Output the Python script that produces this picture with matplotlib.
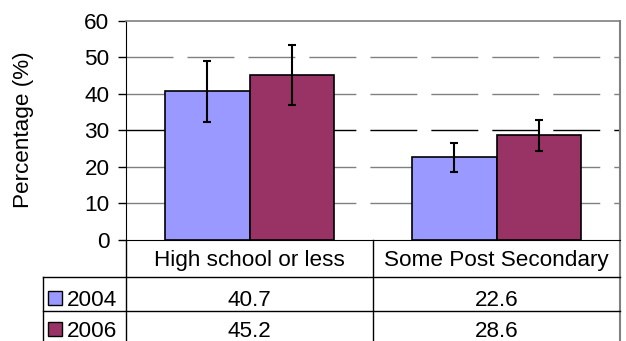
import numpy as np
import matplotlib
matplotlib.use("Agg")
import matplotlib.pyplot as plt
import matplotlib.transforms as mtransforms
from matplotlib.lines import Line2D
from matplotlib.patches import Rectangle

# data
categories = ["High school or less", "Some Post Secondary"]
years = ["2004", "2006"]
values_2004 = [40.7, 22.6]
values_2006 = [45.2, 28.6]
err_2004 = [8.4, 4.0]
err_2006 = [8.2, 4.3]
yticks = [0, 10, 20, 30, 40, 50, 60]

colors = ["#9999FF", "#993366"]

plt.rcParams['font.family'] = ['Liberation Sans', 'DejaVu Sans']
plt.rcParams['lines.scale_dashes'] = False
FS = 16.2

W, H = 626, 341
fig = plt.figure(figsize=(W / 100, H / 100), dpi=100)


def fx(px):
    return px / W


def fy(py):
    return 1 - py / H


ax = fig.add_axes([fx(126), fy(239.7), fx(620) - fx(126), fy(21) - fy(239.7)])

x = np.arange(len(categories))
w = 0.344
ekw = dict(ecolor='black', elinewidth=1.5, capsize=3, capthick=1.5)
ax.bar(x - w / 2, values_2004, w, color=colors[0], edgecolor='black',
       linewidth=1.2, yerr=err_2004, error_kw=ekw, zorder=3)
ax.bar(x + w / 2, values_2006, w, color=colors[1], edgecolor='black',
       linewidth=1.2, yerr=err_2006, error_kw=ekw, zorder=3)

# long dashed gridlines (the 30 one looks darker in the reference)
for yv in yticks[1:-1]:
    gc = 'black' if yv == 30 else '#808080'
    ax.axhline(yv, color=gc, lw=1, linestyle=(0, (33.8, 10.1)), zorder=1)

ax.set_xlim(-0.5, len(categories) - 0.5)
ax.set_ylim(yticks[0], yticks[-1])
ax.set_yticks(yticks)
ax.set_xticks([])
ax.tick_params(axis='y', direction='out', length=5.8, width=1, pad=6,
               labelsize=FS, colors='black')
for side in ['top', 'right']:
    ax.spines[side].set_color('#808080')
    ax.spines[side].set_linewidth(1.2)
ax.spines['left'].set_color('black')
ax.spines['bottom'].set_color('black')
ax.spines['right'].set_visible(False)

fig.text(fx(24), fy(130), "Percentage (%)", rotation=90, ha='center',
         va='center', fontsize=FS)

# data table under the plot
blend = mtransforms.blended_transform_factory(ax.transData, fig.transFigure)
for xv in [-0.5, 0.5]:
    ax.plot([xv, xv], [fy(239.7), 0], transform=blend, color='black',
            lw=1, clip_on=False)
ax.plot([1.5, 1.5], [fy(21), 0], transform=blend, color='#808080',
        lw=1.5, clip_on=False)
for py in [277, 311]:
    fig.add_artist(Line2D([fx(43), fx(620)], [fy(py), fy(py)],
                          transform=fig.transFigure, color='black', lw=1))
fig.add_artist(Line2D([fx(43), fx(43)], [fy(277), 0],
                      transform=fig.transFigure, color='black', lw=1))

for i, cat in enumerate(categories):
    ax.text(i, fy(266), cat, transform=blend, ha='center', va='baseline',
            fontsize=FS)

rows = [values_2004, values_2006]
baselines = [306, 337]
for r, (yr, vals) in enumerate(zip(years, rows)):
    b = baselines[r]
    fig.add_artist(Rectangle((fx(48), fy(b - 1)), fx(14), 14 / H,
                             transform=fig.transFigure, facecolor=colors[r],
                             edgecolor='black', lw=1))
    fig.text(fx(67), fy(b), yr, ha='left', va='baseline', fontsize=FS)
    for i, v in enumerate(vals):
        ax.text(i, fy(b), f"{v:.1f}", transform=blend, ha='center',
                va='baseline', fontsize=FS)

fig.savefig("out.png", dpi=100)
